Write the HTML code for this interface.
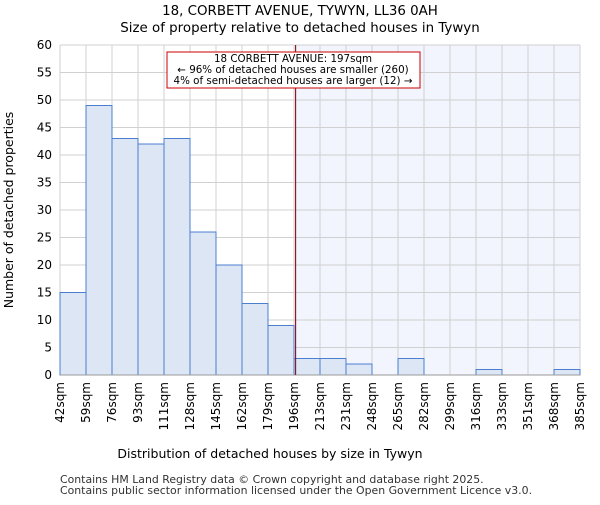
<!DOCTYPE html>
<html><head><meta charset="utf-8"><style>body{margin:0;background:#fff}svg{font-family:"DejaVu Sans","Liberation Sans",sans-serif}</style></head>
<body>
<svg id="chart" width="600" height="500">
<text x="300" y="15" text-anchor="middle" font-size="13.4">18, CORBETT AVENUE, TYWYN, LL36 0AH</text>
<text x="300" y="32" text-anchor="middle" font-size="13.4">Size of property relative to detached houses in Tywyn</text>
<g id="plot"></g>
<text x="270" y="458" text-anchor="middle" font-size="12.5">Distribution of detached houses by size in Tywyn</text>
<text transform="translate(13,210) rotate(-90)" text-anchor="middle" font-size="12.5">Number of detached properties</text>
<text x="60" y="483" font-size="10.9" fill="#333">Contains HM Land Registry data © Crown copyright and database right 2025.</text>
<text x="60" y="494" font-size="10.9" fill="#333">Contains public sector information licensed under the Open Government Licence v3.0.</text>
</svg>
<script>
const categories=["42sqm","59sqm","76sqm","93sqm","111sqm","128sqm","145sqm","162sqm","179sqm","196sqm","213sqm","231sqm","248sqm","265sqm","282sqm","299sqm","316sqm","333sqm","351sqm","368sqm","385sqm"];
const values=[15,49,43,42,43,26,20,13,9,3,3,2,0,3,0,0,1,0,0,1];
const yTicks=[0,5,10,15,20,25,30,35,40,45,50,55,60];
const markerBin=9.06;
const NS="http://www.w3.org/2000/svg";
const g=document.getElementById('plot');
const x0=60,x1=580,yTop=45,yBot=375,yMax=60;
const bw=(x1-x0)/values.length;
const X=i=>x0+i*bw, Y=v=>yBot-v/yMax*(yBot-yTop);
function el(t,a){const e=document.createElementNS(NS,t);for(const k in a)e.setAttribute(k,a[k]);g.appendChild(e);return e;}
const mx=X(markerBin);
let s=el('rect',{x:mx,y:yTop,width:x1-mx,height:yBot-yTop,fill:'#f2f5fd'});


yTicks.forEach(t=>{let l=el('line',{x1:x0,x2:x1,y1:Y(t),y2:Y(t),stroke:'#d0d0d0'});


let tx=el('text',{x:x0-8,y:Y(t)+4,'text-anchor':'end','font-size':'12'});tx.textContent=t;

});
categories.forEach((c,i)=>{let l=el('line',{x1:X(i),x2:X(i),y1:yTop,y2:yBot,stroke:'#d0d0d0'});


let tx=el('text',{transform:`translate(${X(i)+4},382) rotate(-90)`,'text-anchor':'end','font-size':'12'});tx.textContent=c;

});
values.forEach((v,i)=>{if(!v)return;let r=el('rect',{x:X(i),y:Y(v),width:bw,height:Y(0)-Y(v),fill:'#dce6f5',stroke:'#4a7fd0','stroke-width':1});

});
let ax=el('line',{x1:x0,x2:x1,y1:yBot,y2:yBot,stroke:'#999'});


let ml=el('line',{x1:mx,x2:mx,y1:yTop,y2:yBot,stroke:'#8b1a2a','stroke-width':1.2});


let box=el('rect',{x:167,y:52,width:253,height:36,fill:'#fff',stroke:'#c00','stroke-width':1});


["18 CORBETT AVENUE: 197sqm","← 96% of detached houses are smaller (260)","4% of semi-detached houses are larger (12) →"].forEach((t,i)=>{
let tx=el('text',{x:293,y:62+i*11,'text-anchor':'middle','font-size':'10.3'});tx.textContent=t;

});
</script>
</body></html>
